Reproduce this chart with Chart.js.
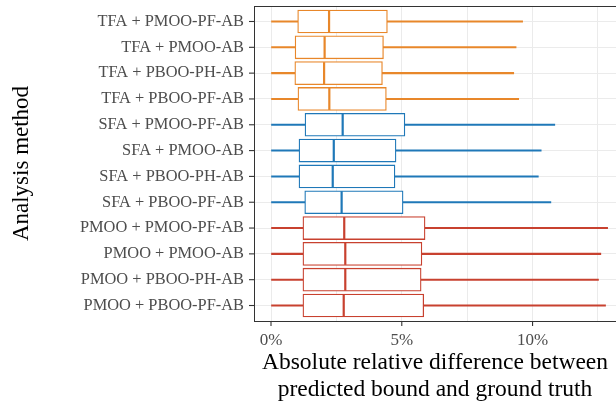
<!DOCTYPE html>
<html>
<head>
<meta charset="utf-8">
<script src="https://cdn.jsdelivr.net/npm/chart.js@4/dist/chart.umd.min.js"></script>
<style>
  html, body { margin: 0; padding: 0; background: #fff; }
  #wrap { width: 616px; height: 405px; }
</style>
</head>
<body>
<div id="wrap"><canvas id="grafica"></canvas></div>
<script>
// categorias (de arriba a abajo)
const metodos = [
  "TFA + PMOO-PF-AB", "TFA + PMOO-AB", "TFA + PBOO-PH-AB", "TFA + PBOO-PF-AB",
  "SFA + PMOO-PF-AB", "SFA + PMOO-AB", "SFA + PBOO-PH-AB", "SFA + PBOO-PF-AB",
  "PMOO + PMOO-PF-AB", "PMOO + PMOO-AB", "PMOO + PBOO-PH-AB", "PMOO + PBOO-PF-AB"
];
const grupos = ["TFA", "TFA", "TFA", "TFA", "SFA", "SFA", "SFA", "SFA", "PMOO", "PMOO", "PMOO", "PMOO"];

// valores de la caja (%)
const minimos = [0, 0, 0, 0, 0, 0, 0, 0, 0, 0, 0, 0];
const q1 = [1.02, 0.92, 0.91, 1.03, 1.30, 1.07, 1.07, 1.29, 1.22, 1.22, 1.22, 1.22];
const medianas = [2.22, 2.05, 2.03, 2.23, 2.74, 2.40, 2.36, 2.70, 2.80, 2.84, 2.84, 2.78];
const q3 = [4.45, 4.30, 4.26, 4.41, 5.12, 4.78, 4.74, 5.05, 5.89, 5.77, 5.74, 5.84];
const maximos = [9.62, 9.37, 9.28, 9.47, 10.85, 10.33, 10.22, 10.70, 12.87, 12.61, 12.52, 12.79];

const ticksX = [0, 2.5, 5, 7.5, 10, 12.5];
const colores = { TFA: "#e8872a", SFA: "#1f78b8", PMOO: "#c8412f" };
const colorFila = grupos.map(g => colores[g]);

const fuente = "'Liberation Serif', 'DejaVu Serif', serif";

function linea(ctx, x1, y1, x2, y2) {
  ctx.beginPath();
  ctx.moveTo(x1, y1);
  ctx.lineTo(x2, y2);
  ctx.stroke();
}

// mediana, borde superior y marcas de los ejes
const pluginMediana = {
  id: "mediana",
  afterDatasetsDraw(chart) {
    const { ctx, scales: { x } } = chart;
    const meta = chart.getDatasetMeta(1);
    ctx.save();
    ctx.lineWidth = 2.2;
    medianas.forEach((m, i) => {
      const bar = meta.data[i];
      const px = x.getPixelForValue(m);
      ctx.strokeStyle = colorFila[i];
      linea(ctx, px, bar.y - bar.height / 2 + 0.5, px, bar.y + bar.height / 2 - 0.5);
    });
    ctx.restore();
  },
  afterDraw(chart) {
    const { ctx, chartArea, scales: { x, y } } = chart;
    ctx.save();
    ctx.strokeStyle = "#333333";
    ctx.lineWidth = 1.1;
    linea(ctx, chartArea.left, chartArea.top + 0.5, chartArea.right, chartArea.top + 0.5);
    for (let i = 0; i < metodos.length; i++) {
      const py = y.getPixelForValue(i);
      linea(ctx, chartArea.left - 5, py, chartArea.left, py);
    }
    ticksX.filter(v => v % 5 === 0).forEach(v => {
      const px = x.getPixelForValue(v);
      linea(ctx, px, chartArea.bottom, px, chartArea.bottom + 5);
    });
    ctx.restore();
  }
};

new Chart(document.getElementById("grafica").getContext("2d"), {
  type: "bar",
  data: {
    datasets: [
      {
        label: "bigotes",
        data: metodos.map((m, i) => ({ y: i, x: [minimos[i], maximos[i]] })),
        backgroundColor: colorFila,
        borderWidth: 0,
        barThickness: 1.4,
        grouped: false,
        order: 2
      },
      {
        label: "caja",
        data: metodos.map((m, i) => ({ y: i, x: [q1[i], q3[i]] })),
        backgroundColor: "#ffffff",
        borderColor: colorFila,
        borderWidth: 1.3,
        borderSkipped: false,
        barThickness: 23,
        grouped: false,
        order: 1
      }
    ]
  },
  options: {
    indexAxis: "y",
    responsive: true,
    maintainAspectRatio: false,
    animation: false,
    layout: { padding: { top: 6, right: 0, left: 0, bottom: 0 } },
    plugins: {
      legend: { display: false },
      tooltip: { enabled: false }
    },
    scales: {
      x: {
        type: "linear",
        min: -0.65,
        max: 13.19,
        afterBuildTicks: s => { s.ticks = ticksX.map(v => ({ value: v })); },
        afterFit: s => { s.height = 84; s.paddingLeft = 0; s.paddingRight = 0; },
        grid: {
          color: "#ebebeb",
          lineWidth: 1,
          tickLength: 4,
          tickColor: "rgba(0,0,0,0)"
        },
        border: { color: "#333333", width: 1 },
        ticks: {
          padding: 5,
          color: "#4d4d4d",
          font: { family: fuente, size: 17 },
          callback: v => v % 5 === 0 ? v + "%" : ""
        },
        title: {
          display: true,
          text: ["Absolute relative difference between", "predicted bound and ground truth"],
          color: "#000000",
          font: { family: fuente, size: 23.5, lineHeight: 1.13 },
          padding: { top: 0, bottom: 2 }
        }
      },
      y: {
        type: "linear",
        reverse: true,
        offset: false,
        min: -0.6,
        max: 11.6,
        afterBuildTicks: s => { s.ticks = metodos.map((m, i) => ({ value: i })); },
        afterFit: s => { s.width = 254; s.paddingTop = 0; s.paddingBottom = 0; },
        grid: {
          offset: false,
          color: "#ebebeb",
          lineWidth: 1,
          tickLength: 5,
          tickColor: "rgba(0,0,0,0)"
        },
        border: { color: "#333333", width: 1 },
        ticks: {
          padding: 5,
          color: "#4d4d4d",
          font: { family: fuente, size: 16.4 },
          callback: v => metodos[v]
        },
        title: {
          display: true,
          text: "Analysis method",
          color: "#000000",
          font: { family: fuente, size: 23 },
          padding: { top: 8, bottom: 4 }
        }
      }
    }
  },
  plugins: [pluginMediana]
});
</script>
</body>
</html>
